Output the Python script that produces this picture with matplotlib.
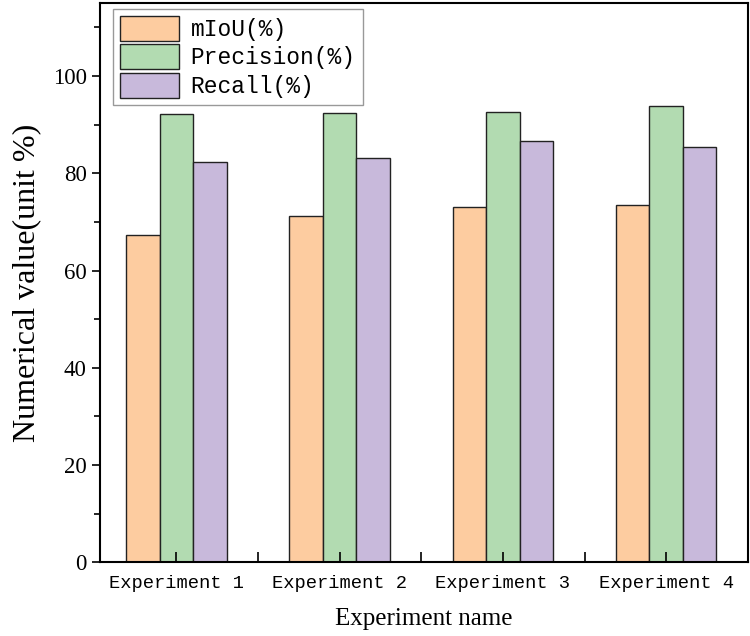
import numpy as np
import matplotlib
matplotlib.use('Agg')
import matplotlib.pyplot as plt

experiments = ['Experiment 1', 'Experiment 2', 'Experiment 3', 'Experiment 4']
miou = [67.3, 71.2, 73.0, 73.5]
precision = [92.2, 92.4, 92.6, 93.8]
recall = [82.3, 83.2, 86.6, 85.4]
labels = ['mIoU(%)', 'Precision(%)', 'Recall(%)']
colors = ['#fdcca0', '#b2dbb1', '#c8b9db']

mono = ['Liberation Mono', 'DejaVu Sans Mono']
serif = ['Liberation Serif', 'DejaVu Serif']

fig = plt.figure(figsize=(7.5, 6.36), dpi=100)
ax = fig.add_axes([0.133, 0.116, 0.864, 0.879])

x = np.arange(len(experiments))
w = 0.205
for i, (vals, lab, c) in enumerate(zip([miou, precision, recall], labels, colors)):
    ax.bar(x + (i - 1) * w, vals, w, color=c, edgecolor='#222222', linewidth=1.0, label=lab)

ax.set_xlim(-0.47, 3.5)
ax.set_ylim(0, 115)
ax.set_yticks([0, 20, 40, 60, 80, 100])
ax.set_yticks([10, 30, 50, 70, 90, 110], minor=True)
ax.set_xticks(x)
ax.set_xticks(x[:-1] + 0.5, minor=True)
ax.set_xticklabels(experiments, family=mono, fontsize=13.5)
for t in ax.get_yticklabels():
    t.set_family(serif)
    t.set_fontsize(16.5)

ax.tick_params(axis='y', which='major', direction='out', length=6, width=1.2)
ax.tick_params(axis='y', which='minor', direction='out', length=4, width=1.2)
ax.tick_params(axis='x', which='both', direction='in', length=7, width=1.2, pad=9)
for s in ax.spines.values():
    s.set_linewidth(1.5)

ax.set_xlabel('Experiment name', family=serif, fontsize=18, labelpad=12)
ax.set_ylabel('Numerical value(unit %)', family=serif, fontsize=23, labelpad=8)

leg = ax.legend(loc='upper left', bbox_to_anchor=(0.02, 0.99), prop={'family': mono, 'size': 16.5},
                fancybox=False, edgecolor='#999999', framealpha=1,
                handlelength=2.6, handleheight=1.3, handletextpad=0.5,
                labelspacing=0.15, borderpad=0.3, borderaxespad=0)
for h in leg.legend_handles:
    h.set_edgecolor('#222222')

fig.savefig('out.png', dpi=100)
